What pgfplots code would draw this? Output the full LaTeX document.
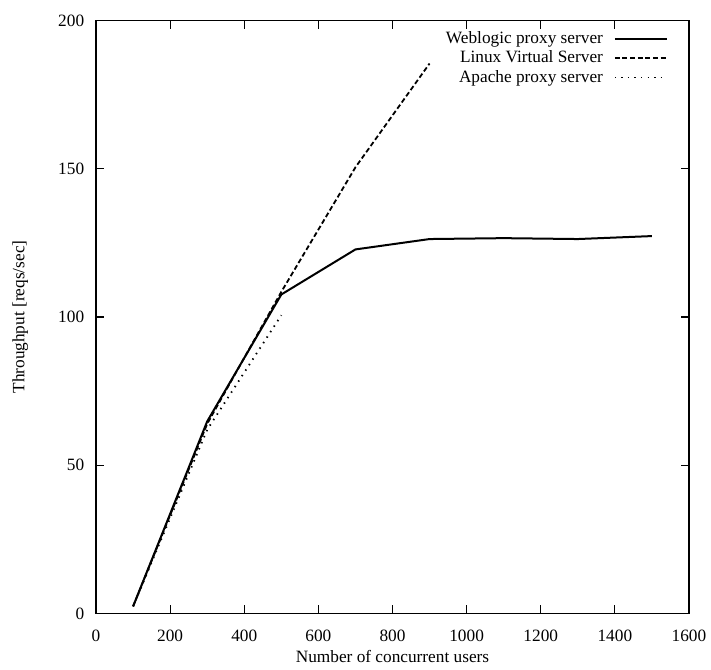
\documentclass[border=0pt]{standalone}
\usepackage{fontspec}
\setmainfont{Liberation Serif}
\usepackage{pgfplots}
\pgfplotsset{compat=1.18}

\begin{document}
\begin{tikzpicture}
\begin{axis}[
    name=ax,
    scale only axis,
    width=326pt, height=326pt,
    xmin=0, xmax=1600, ymin=0, ymax=200,
    xtick={0,200,...,1600},
    ytick={0,50,...,200},
    tick align=inside,
    major tick length=4.4pt,
    axis line style={line width=0.6pt},
    every tick/.style={line width=0.6pt, black},
    /pgf/number format/assume math mode=true,
    /pgf/number format/1000 sep={},
    tick label style={font=\fontsize{9.5}{11.5}\selectfont},
    yticklabel style={xshift=-3pt},
    xticklabel style={yshift=-5.5pt},
    xlabel={Number of concurrent users},
    ylabel={Throughput [reqs/sec]},
    label style={font=\fontsize{9.5}{11.5}\selectfont},
    xlabel style={at={(axis description cs:0.5,-0.073)}, anchor=center},
    ylabel style={at={(axis description cs:-0.128,0.5)}, anchor=center},
    legend style={draw=none, fill=none, font=\fontsize{9.5}{11.5}\selectfont,
        inner sep=0pt, row sep=-1.5pt,
        /tikz/every odd column/.append style={column sep=4pt},
        at={(0.965,0.988)}, anchor=north east},
    legend cell align=right,
    legend plot pos=right,
    legend image code/.code={\draw[#1] (0pt,0pt) -- (28.6pt,0pt);},
]
\addplot[black, line width=1.1pt] coordinates {
    (100,2.4) (300,64.8) (500,107.6) (700,122.8) (900,126.3)
    (1100,126.6) (1300,126.3) (1500,127.3)
};
\addlegendentry{Weblogic proxy server}
\addplot[black, line width=1pt, dash pattern=on 2.7pt off 1.5pt] coordinates {
    (100,2.4) (300,64) (500,108.5) (700,150.5) (900,185.5)
};
\addlegendentry{Linux Virtual Server}
\addplot[black, line width=1pt, dash pattern=on 0.8pt off 2.8pt] coordinates {
    (100,2.4) (300,62) (500,100.6)
};
\addlegendentry{Apache proxy server}
\end{axis}
\pgfresetboundingbox
\path (ax.south west) ++(-52.8pt,-30.8pt) rectangle ([shift={(12.1pt,11.3pt)}]ax.north east);
\end{tikzpicture}
\end{document}
